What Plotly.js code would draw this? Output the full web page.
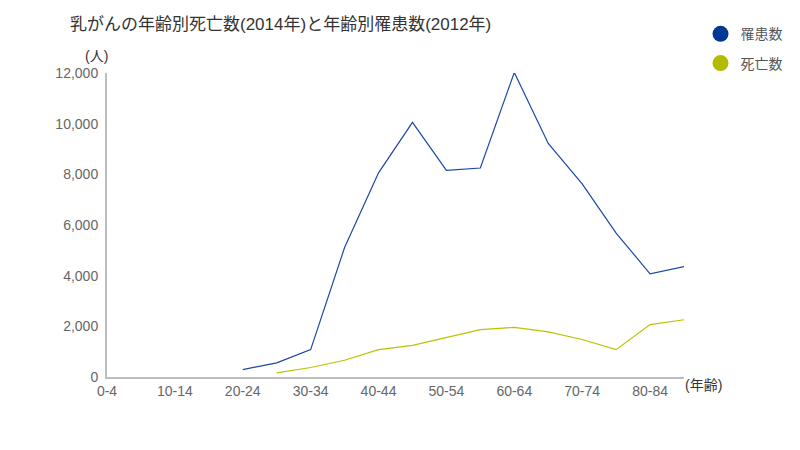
<!DOCTYPE html>
<html><head><meta charset="utf-8">
<script src="https://cdn.plot.ly/plotly-3.0.1.min.js"></script>
<style>body{margin:0;background:#fff}#c{width:800px;height:450px}</style>
</head><body><div id="c"></div>
<script>
const ageGroups = ['0-4','5-9','10-14','15-19','20-24','25-29','30-34','35-39','40-44','45-49','50-54','55-59','60-64','65-69','70-74','75-79','80-84','85-'];
const tickLabels = ['0-4','10-14','20-24','30-34','40-44','50-54','60-64','70-74','80-84'];
const incidence = [null,null,null,null,290,560,1080,5110,8060,10050,8160,8250,12020,9220,7620,5680,4075,4360];
const deaths = [null,null,null,null,null,165,375,660,1080,1250,1555,1870,1960,1780,1480,1080,2070,2260];
const seriesNames = ['罹患数','死亡数'];

const blue = '#1c47a6', blueDot = '#003894';
const olive = '#bcc200', oliveDot = '#b3bb00';
const font = 'Liberation Sans, Arial, "Noto Sans CJK JP", sans-serif';

const traces = [
  {x: ageGroups, y: incidence, mode:'lines', line:{color:blue,width:1.2}, showlegend:false, hoverinfo:'skip'},
  {x: ageGroups, y: deaths, mode:'lines', line:{color:olive,width:1.2}, showlegend:false, hoverinfo:'skip'},
  {x:[null], y:[null], mode:'markers', marker:{color:blueDot,size:16}, name:seriesNames[0], legendgroup:'a'},
  {x:[null], y:[null], mode:'markers', marker:{color:oliveDot,size:16}, name:seriesNames[1], legendgroup:'b'}
];

const layout = {
  width:800, height:450,
  margin:{l:107, r:114, t:73, b:73},
  paper_bgcolor:'#fff', plot_bgcolor:'#fff',
  font:{family:font, size:14, color:'#666'},
  title:{text:'乳がんの年齢別死亡数(2014年)と年齢別罹患数(2012年)', xref:'container', x:70/800, xanchor:'left', yref:'container', y:1-24/450, yanchor:'middle', font:{family:font,size:17,color:'#333'}},
  xaxis:{type:'category', categoryorder:'array', categoryarray:ageGroups, range:[0,17], tickvals:tickLabels, ticktext:tickLabels,
    showline:true, linecolor:'#bdbdbd', linewidth:2, showgrid:false, zeroline:false, ticks:'', tickfont:{size:14,color:'#666'}},
  yaxis:{range:[0,12000], dtick:2000, tickformat:',d', showline:true, linecolor:'#bdbdbd', linewidth:2, showgrid:false, zeroline:false, ticks:'',
    ticklabelstandoff:4, tickfont:{size:14,color:'#666'}},
  legend:{x:1.02+5/579, xanchor:'left', y:1.19-3/304, yanchor:'top', font:{size:14,color:'#555'}, itemwidth:30, tracegroupgap:8, bgcolor:'rgba(0,0,0,0)'},
  annotations:[
    {text:'(人)', xref:'paper', yref:'paper', x:-11/579, y:1+(73-56)/304, xanchor:'center', yanchor:'middle', showarrow:false, font:{size:14,color:'#333'}},
    {text:'(年齢)', xref:'paper', yref:'paper', x:1+(706-686)/579, y:-(385-377)/304, xanchor:'center', yanchor:'middle', showarrow:false, font:{size:14,color:'#333'}}
  ],
  showlegend:true
};
Plotly.newPlot('c', traces, layout, {displayModeBar:false, staticPlot:true});
</script></body></html>
